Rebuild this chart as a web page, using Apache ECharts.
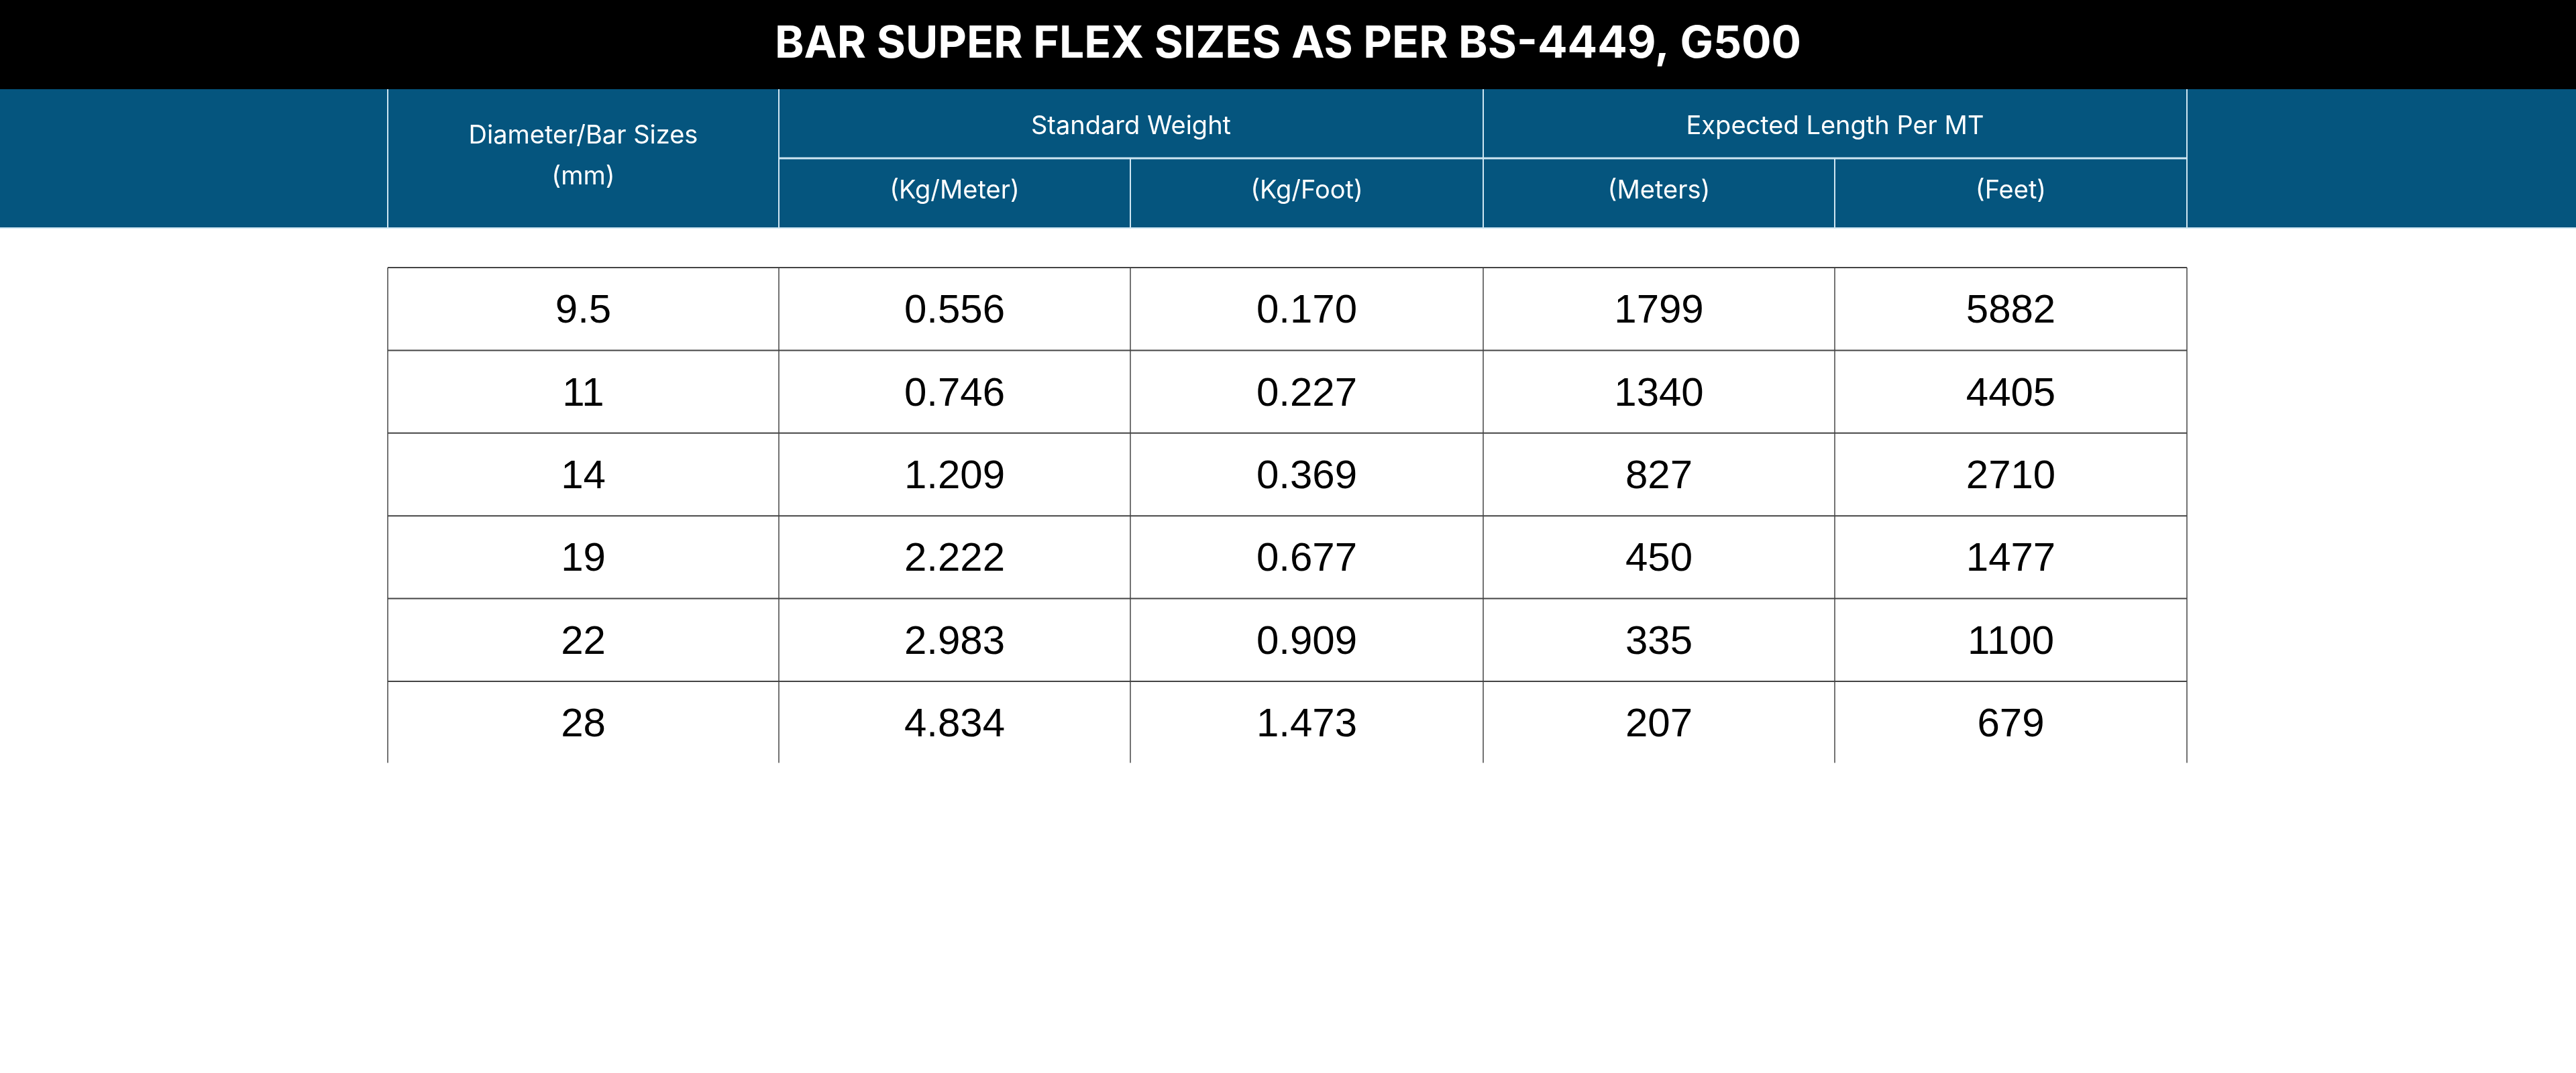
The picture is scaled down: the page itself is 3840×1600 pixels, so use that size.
<!DOCTYPE html>
<html><head><meta charset="utf-8">
<script src="https://cdn.jsdelivr.net/npm/echarts@6/dist/echarts.min.js"></script>
<style>html,body{margin:0;padding:0;background:#fff}#c{width:3840px;height:1600px}</style>
</head><body><div id="c"></div>
<script>
const title = 'BAR SUPER FLEX SIZES AS PER BS-4449, G500';
const diameters = ['9.5','11','14','19','22','28'];
const kgPerMeter = ['0.556','0.746','1.209','2.222','2.983','4.834'];
const kgPerFoot = ['0.170','0.227','0.369','0.677','0.909','1.473'];
const meters = ['1799','1340','827','450','335','207'];
const feet = ['5882','4405','2710','1477','1100','679'];
const groupHeaders = ['Standard Weight','Expected Length Per MT'];
const subHeaders = ['(Kg/Meter)','(Kg/Foot)','(Meters)','(Feet)'];

const colX = [578,1161,1685,2211,2735,3260];
const rowTop = 399, rowH = 123.4;
const blue = '#05557e';
const els = [];
els.push({type:'rect',shape:{x:0,y:0,width:3840,height:133},style:{fill:'#000'}});
els.push({type:'text',style:{text:title,x:1920,y:66,align:'center',verticalAlign:'middle',fill:'#fff',font:'bold 66px Inter, "Open Sans", sans-serif'}});
els.push({type:'rect',shape:{x:0,y:133,width:3840,height:207},style:{fill:blue}});
const hl = {stroke:'#cfe6f2',lineWidth:2};
colX.forEach((x,i)=>{
  const y1 = (i===2||i===4)?236:133;
  els.push({type:'line',shape:{x1:x,y1:y1,x2:x,y2:340},style:hl});
});
els.push({type:'line',shape:{x1:1161,y1:236,x2:3260,y2:236},style:{stroke:'#cfe6f2',lineWidth:3}});
els.push({type:'line',shape:{x1:0,y1:340,x2:3840,y2:340},style:{stroke:'#cfe6f2',lineWidth:2}});
const hf = '38px Inter, "Open Sans", sans-serif';
els.push({type:'text',style:{text:'Diameter/Bar Sizes',x:(colX[0]+colX[1])/2,y:203,align:'center',verticalAlign:'middle',fill:'#fff',font:hf}});
els.push({type:'text',style:{text:'(mm)',x:(colX[0]+colX[1])/2,y:264,align:'center',verticalAlign:'middle',fill:'#fff',font:hf}});
els.push({type:'text',style:{text:groupHeaders[0],x:(colX[1]+colX[3])/2,y:189,align:'center',verticalAlign:'middle',fill:'#fff',font:hf}});
els.push({type:'text',style:{text:groupHeaders[1],x:(colX[3]+colX[5])/2,y:189,align:'center',verticalAlign:'middle',fill:'#fff',font:hf}});
subHeaders.forEach((s,i)=>{
  els.push({type:'text',style:{text:s,x:(colX[i+1]+colX[i+2])/2,y:285,align:'center',verticalAlign:'middle',fill:'#fff',font:hf}});
});
const cols = [diameters,kgPerMeter,kgPerFoot,meters,feet];
const n = diameters.length;
const ls = {stroke:'#444',lineWidth:2};
for(let r=0;r<n;r++){
  const y = rowTop + r*rowH;
  els.push({type:'line',shape:{x1:colX[0],y1:y,x2:colX[5],y2:y},style:ls});
  cols.forEach((c,i)=>{
    els.push({type:'text',style:{text:c[r],x:(colX[i]+colX[i+1])/2,y:y+rowH/2+4,align:'center',verticalAlign:'middle',fill:'#000',font:'60px "Liberation Sans", Arial, sans-serif'}});
  });
}
colX.forEach(x=>els.push({type:'line',shape:{x1:x,y1:rowTop,x2:x,y2:rowTop+n*rowH-2},style:{stroke:'#444',lineWidth:1.5}}));
const chart = echarts.init(document.getElementById('c'));
chart.setOption({backgroundColor:'#fff',graphic:{elements:els}});
</script></body></html>
